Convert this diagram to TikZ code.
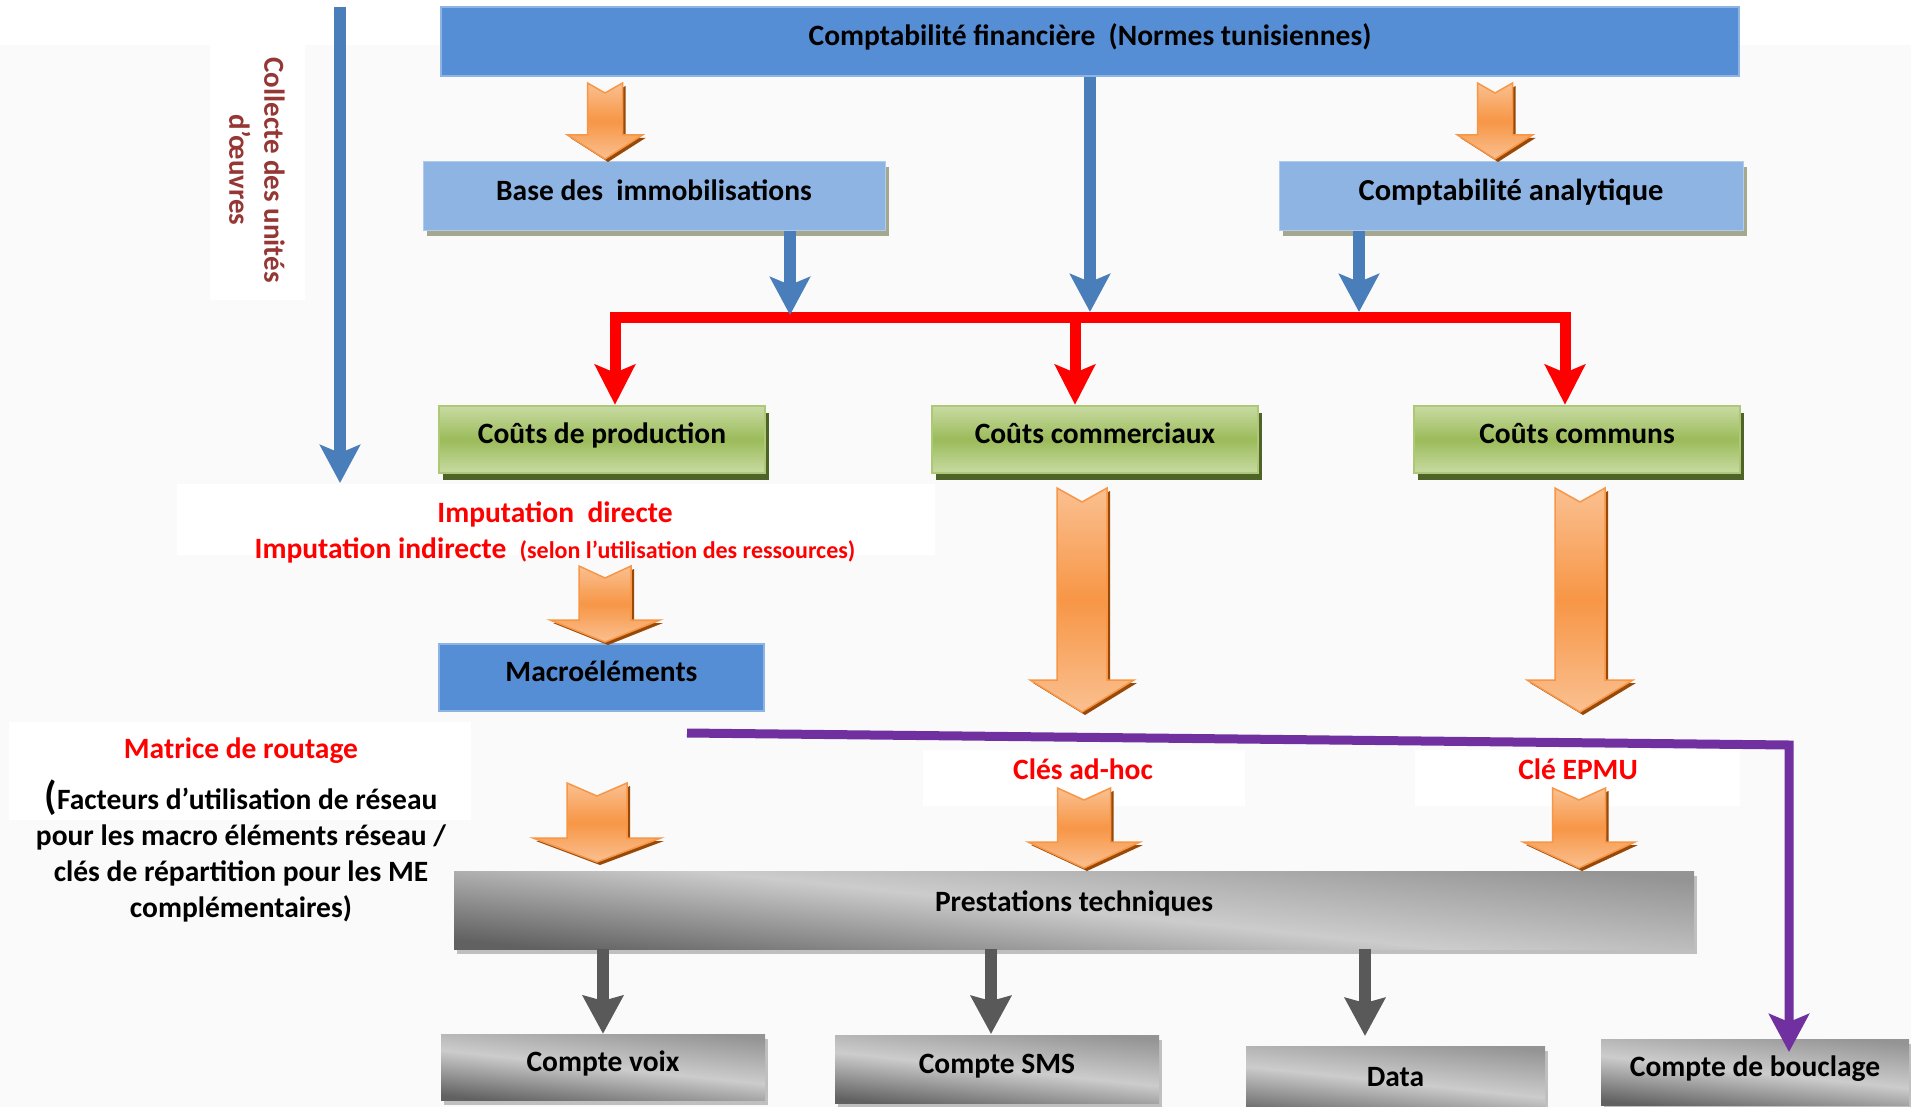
\documentclass[tikz,border=0pt]{standalone}
\usepackage{fontspec}
\setmainfont{Carlito}
\usetikzlibrary{arrows.meta,shadows}

\definecolor{fblue}{HTML}{558ED5}
\definecolor{lblue}{HTML}{8EB4E3}
\definecolor{ablue}{HTML}{4A7EBB}
\definecolor{shadolive}{HTML}{A3A88E}
\definecolor{lgreen}{HTML}{C8DBA3}
\definecolor{mgreen}{HTML}{9BBB59}
\definecolor{dgreen}{HTML}{4F6228}
\definecolor{orng}{HTML}{F79646}
\definecolor{lorng}{HTML}{FAC090}
\definecolor{dorng}{HTML}{984807}
\definecolor{purp}{HTML}{7030A0}
\definecolor{dred}{HTML}{953735}
\definecolor{agrey}{HTML}{595959}

\tikzset{
  bx/.style 2 args={minimum width=#1, minimum height=#2, inner sep=0pt,
    text height=20pt, text depth=12pt},
  txt/.style={font=\bfseries\fontsize{#1}{#1}\selectfont},
  finbox/.style={fill=fblue, draw=lblue, line width=2pt},
  basebox/.style={fill=lblue, draw=lblue!70!white, line width=1pt,
    drop shadow={shadow xshift=4pt, shadow yshift=-5pt, fill=shadolive, opacity=1}},
  coutbox/.style={top color=lgreen, bottom color=lgreen, middle color=mgreen,
    draw=mgreen!60!lgreen, line width=2.5pt,
    drop shadow={shadow xshift=4pt, shadow yshift=-7pt, fill=dgreen, opacity=1}},
  prestbox/.style={top color=black!42, bottom color=black!62, middle color=black!20,
    shading angle=-6,
    drop shadow={shadow xshift=3pt, shadow yshift=-5pt, fill=black!25, opacity=1}},
  orfill/.style={top color=lorng, bottom color=lorng, middle color=orng,
    draw=orng, line width=1.5pt},
  orshade/.style={fill=dorng},
  blarrow/.style={draw=ablue, line width=12pt, -{Stealth[length=38pt, width=40pt, inset=8pt]}},
  redline/.style={draw=red, line width=11pt},
  redarrow/.style={redline, -{Stealth[length=40pt, width=40pt, inset=8pt]}},
  gyarrow/.style={draw=agrey, line width=12pt, -{Stealth[length=38pt, width=40pt, inset=5pt]}},
  puarrow/.style={draw=purp, line width=9pt, -{Stealth[length=38pt, width=40pt, inset=8pt]}}
}

\newcommand{\orarrow}[7]{%
  \path[orshade, shift={(3,3)}] (#1-#5,#2) -- (#1,#2+#7) -- (#1+#5,#2) -- (#1+#5,#3)
    -- (#1+#6,#3) -- (#1,#4) -- (#1-#6,#3) -- (#1-#5,#3) -- cycle;
  \path[orfill] (#1-#5,#2) -- (#1,#2+#7) -- (#1+#5,#2) -- (#1+#5,#3)
    -- (#1+#6,#3) -- (#1,#4) -- (#1-#6,#3) -- (#1-#5,#3) -- cycle;}

\begin{document}
\begin{tikzpicture}[x=1pt, y=-1pt]
\useasboundingbox (0,0) rectangle (1911,1107);
\clip (0,0) rectangle (1911,1107);
\fill[white] (0,0) rectangle (1911,1107);
\fill[black!2] (0,45) rectangle (1911,1107);
\fill[white] (210,45) rectangle (305,300);
\fill[white] (177,484) rectangle (935,555);
\fill[white] (9,722) rectangle (471,820);
\fill[white] (923,750) rectangle (1245,806);
\fill[white] (1415,750) rectangle (1740,806);

\node[finbox, bx={1298}{69}, txt=29.5] (CF) at (1090,41.5) {Comptabilité financière\ \ (Normes tunisiennes)};
\node[basebox, bx={462}{69}, txt=29.5] (Base) at (654,196.5) {Base des\ \ immobilisations};
\node[basebox, bx={464}{69}, txt=30.5] (Ana) at (1511,196.5) {Comptabilité analytique};
\node[coutbox, bx={326}{67}, txt=29.5] (Prod) at (602,439.5) {Coûts de production};
\node[coutbox, bx={326}{67}, txt=29.5] (Comm) at (1095,439.5) {Coûts commerciaux};
\node[coutbox, bx={326}{67}, txt=29.5] (Commun) at (1577,439.5) {Coûts communs};
\node[finbox, bx={325}{67}, txt=29.5] (Macro) at (601.5,677.5) {Macroéléments};
\node[prestbox, bx={1240}{78}, txt=29.5, text depth=17pt] (Prest) at (1074,910) {Prestations techniques};
\node[prestbox, bx={324}{66}, txt=29.5] (Voix) at (603,1067) {Compte voix};
\node[prestbox, bx={324}{68}, txt=29.5] (SMS) at (997,1069) {Compte SMS};
\node[prestbox, bx={299}{72}, txt=29.5] (Data) at (1395.5,1082) {Data};
\node[prestbox, bx={308}{66}, txt=29.5] (Boucl) at (1755,1072) {Compte de bouclage};

\node[text=dred, rotate=-90, align=center, font=\bfseries\fontsize{29}{35}\selectfont] (Collecte) at (257,170) {Collecte des unités\\d’œuvres};
\node[text=red, align=center, font=\bfseries\fontsize{29.5}{36}\selectfont] (Imput) at (555,532)
  {Imputation\ \ directe\\Imputation indirecte\ \ {\fontsize{24}{36}\selectfont(selon l’utilisation des ressources)}};
\node[text=red, txt=29.5] (Matrice) at (241,751) {Matrice de routage};
\node[align=center, font=\bfseries\fontsize{29.5}{36}\selectfont] (Facteurs) at (241,851)
  {{\fontsize{40}{36}\selectfont(}Facteurs d’utilisation de réseau\\pour les macro éléments réseau /\\clés de répartition pour les ME\\complémentaires)};
\node[text=red, txt=29.5] (Adhoc) at (1083,769) {Clés ad-hoc};
\node[text=red, txt=29.5] (EPMU) at (1578,769) {Clé EPMU};

\orarrow{605}{83}{135}{159}{17.5}{37.5}{10}
\orarrow{1495}{83}{135}{159}{17.5}{37.5}{10}
\orarrow{605}{566}{620}{642}{26}{55}{12}
\orarrow{1082}{488}{680}{712}{25}{52}{14}
\orarrow{1580}{488}{680}{712}{25}{53}{14}
\orarrow{597}{783}{838}{862}{30}{64}{13}
\orarrow{1084}{788}{842}{868}{26.5}{56}{12}
\orarrow{1579}{788}{842}{868}{26.5}{56}{12}

\coordinate (ColTop) at (340,7);
\coordinate (ColBot) at (340,483);
\coordinate (b1) at (790,315);
\coordinate (b2) at (1090,312);
\coordinate (b3) at (1359,312);
\coordinate (busL) at (615,317);
\coordinate (busM) at (1075,317);
\coordinate (busR) at (1565,317);
\coordinate (d1) at (1365,1036);
\coordinate (pu1) at (687,733);
\coordinate (pu2) at (1789,745);
\coordinate (pu3) at (1789,1052);

\draw[blarrow] (ColTop) -- (ColBot);
\draw[redarrow] (busM) -- (busL) -- (busL |- Prod.north);
\draw[redarrow] (busM) -- (busR) -- (busR |- Commun.north);
\draw[redarrow] (busM) -- (busM |- Comm.north);
\draw[blarrow] (b1 |- Base.south) -- (b1);
\draw[blarrow] (CF.south) -- (b2);
\draw[blarrow] (b3 |- Ana.south) -- (b3);

\draw[gyarrow] (Prest.south -| Voix.north) -- (Voix.north);
\draw[gyarrow] (Prest.south -| 991,0) -- (991,1034);
\draw[gyarrow] (Prest.south -| d1) -- (d1);
\draw[puarrow] (pu1) -- (pu2) -- (pu3);
\end{tikzpicture}
\end{document}
